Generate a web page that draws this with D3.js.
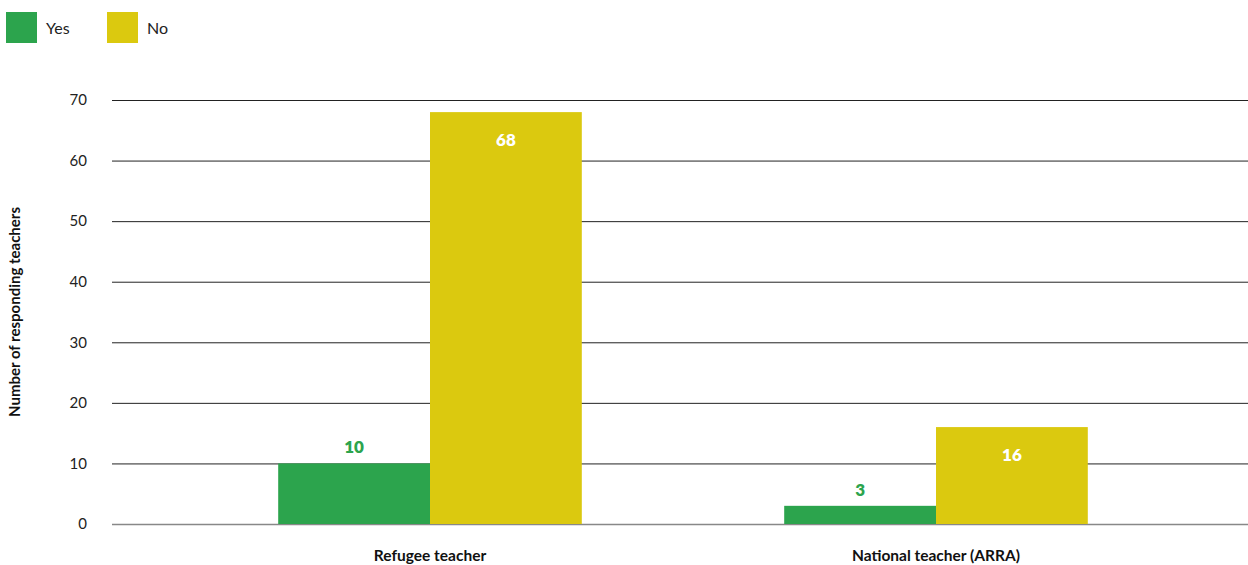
<!DOCTYPE html>
<html>
<head>
<meta charset="utf-8">
<script src="https://cdn.jsdelivr.net/npm/d3@7"></script>
<style>
  body { margin: 0; background: #fff; }
  text { font-family: Lato, "Noto Sans", sans-serif; }
</style>
</head>
<body>
<div id="chart"></div>
<script>
const categories = ['Refugee teacher', 'National teacher (ARRA)'];
const seriesKeys = ['Yes', 'No'];
const yesValues = [10, 3];
const noValues = [68, 16];
const yTicks = [0, 10, 20, 30, 40, 50, 60, 70];
const colors = ['#2ca44d', '#dbc90f'];

const width = 1248;
const height = 565;
const margin = { top: 100, right: 0, bottom: 41, left: 112 };

const data = categories.map((c, i) => ({ label: c, Yes: yesValues[i], No: noValues[i] }));

const svg = d3.select('#chart')
  .append('svg')
  .attr('width', width)
  .attr('height', height);

const x = d3.scaleBand()
  .domain(categories)
  .range([177, 1189])
  .paddingInner(0.4)
  .paddingOuter(0.2);

const xSub = d3.scaleBand()
  .domain(seriesKeys)
  .range([0, x.bandwidth()]);

const y = d3.scaleLinear()
  .domain([0, 70])
  .range([height - margin.bottom, margin.top]);

const color = d3.scaleOrdinal().domain(seriesKeys).range(colors);

// gridlines
svg.append('g')
  .selectAll('line')
  .data(yTicks)
  .join('line')
  .attr('x1', margin.left)
  .attr('x2', width - margin.right)
  .attr('y1', (d) => y(d) + 0.5)
  .attr('y2', (d) => y(d) + 0.5)
  .attr('stroke', (d) => (d === 0 ? '#888' : '#222'))
  .attr('stroke-width', (d) => (d === 0 ? 1.6 : 1));

// y tick labels
svg.append('g')
  .selectAll('text')
  .data(yTicks)
  .join('text')
  .attr('x', 87)
  .attr('y', (d) => y(d))
  .attr('dy', '0.35em')
  .attr('text-anchor', 'end')
  .attr('font-size', '15px')
  .attr('fill', '#222')
  .text((d) => d);

// y axis title
svg.append('text')
  .attr('transform', `translate(20, ${(y(0) + y(70)) / 2}) rotate(-90)`)
  .attr('text-anchor', 'middle')
  .attr('font-size', '15px')
  .attr('font-weight', 'bold')
  .attr('fill', '#111')
  .text('Number of responding teachers');

// bars
const groups = svg.append('g')
  .selectAll('g')
  .data(data)
  .join('g')
  .attr('transform', (d) => `translate(${x(d.label)},0)`);

const bars = groups.selectAll('g')
  .data((d) => seriesKeys.map((k) => ({ key: k, value: d[k] })))
  .join('g');

bars.append('rect')
  .attr('x', (d) => xSub(d.key))
  .attr('y', (d) => y(d.value))
  .attr('width', xSub.bandwidth())
  .attr('height', (d) => y(0) - y(d.value))
  .attr('fill', (d) => color(d.key));

// value labels: Yes above bar in green, No inside bar in white
bars.append('text')
  .attr('x', (d) => xSub(d.key) + xSub.bandwidth() / 2)
  .attr('y', (d) => (d.key === 'Yes' ? y(d.value) - 16 : y(d.value) + 28))
  .attr('dy', '0.35em')
  .attr('text-anchor', 'middle')
  .attr('font-family', '"Open Sans", Lato, sans-serif')
  .attr('font-size', '17px')
  .attr('font-weight', '800')
  .attr('fill', (d) => (d.key === 'Yes' ? colors[0] : '#fff'))
  .text((d) => d.value);

// category labels
svg.append('g')
  .selectAll('text')
  .data(categories)
  .join('text')
  .attr('x', (d) => x(d) + x.bandwidth() / 2)
  .attr('y', 556)
  .attr('dy', '0.35em')
  .attr('text-anchor', 'middle')
  .attr('font-size', '15.5px')
  .attr('font-weight', 'bold')
  .attr('fill', '#111')
  .text((d) => d);

// legend
const legend = svg.append('g')
  .selectAll('g')
  .data(seriesKeys)
  .join('g')
  .attr('transform', (d, i) => `translate(${6 + i * 101}, 12)`);

legend.append('rect')
  .attr('width', 31)
  .attr('height', 31)
  .attr('fill', (d) => color(d));

legend.append('text')
  .attr('x', 40)
  .attr('y', 16)
  .attr('dy', '0.35em')
  .attr('font-size', '16px')
  .attr('fill', '#222')
  .text((d) => d);
</script>
</body>
</html>
